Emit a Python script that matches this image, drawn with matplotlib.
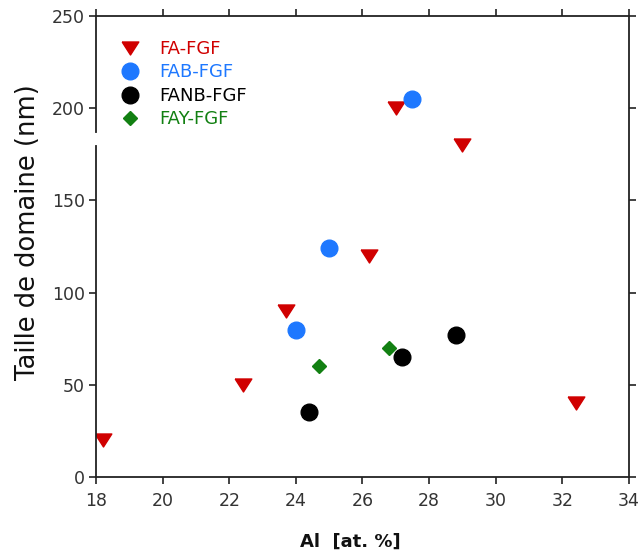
import numpy as np
import matplotlib
matplotlib.use('Agg')
import matplotlib.pyplot as plt

# Data
fa_x = [18.2, 22.4, 23.7, 26.2, 27.0, 29.0, 32.4]
fa_y = [20, 50, 90, 120, 200, 180, 40]

fab_x = [24.0, 25.0, 27.5]
fab_y = [80, 124, 205]

fanb_x = [24.4, 27.2, 28.8]
fanb_y = [35, 65, 77]

fay_x = [24.7, 26.8]
fay_y = [60, 70]

x_ticks = [18, 20, 22, 24, 26, 28, 30, 32, 34]
y_ticks = [0, 50, 100, 150, 200, 250]

red = '#d00000'
blue = '#1e78ff'
green = '#128012'

# flattened down-triangle
tri = [(-1, 0.78), (1, 0.78), (0, -0.78), (-1, 0.78)]

fig = plt.figure(figsize=(6.41, 5.55), dpi=100)
ax = fig.add_axes([0.150, 0.1405, 0.831, 0.8306])

ax.plot(fa_x, fa_y, linestyle='none', marker=tri, markersize=12,
        color=red, label='FA-FGF')
ax.plot(fab_x, fab_y, linestyle='none', marker='o', markersize=12,
        color=blue, label='FAB-FGF')
ax.plot(fanb_x, fanb_y, linestyle='none', marker='o', markersize=12,
        color='black', label='FANB-FGF')
ax.plot(fay_x, fay_y, linestyle='none', marker='D', markersize=7.5,
        color=green, label='FAY-FGF')

ax.set_xlim(18, 34)
ax.set_ylim(0, 250)
ax.set_xticks(x_ticks)
ax.set_yticks(y_ticks)

for s in ax.spines.values():
    s.set_linewidth(1.3)
    s.set_color('#222222')

ax.tick_params(axis='both', direction='out', length=5, width=1.2,
               color='#222222', labelsize=12.5, labelcolor='#333333',
               top=True, right=True, labeltop=False, labelright=False)
ax.tick_params(axis='x', pad=6)
ax.tick_params(axis='y', pad=3)

# small break in the left axis line as in the original
ax.plot([18, 18], [181, 185.5], color='white', lw=3, clip_on=False, zorder=5)

ax.set_ylabel('Taille de domaine (nm)', fontsize=18.5, color='#111111')
ax.yaxis.set_label_coords(-0.103, 0.532)
ax.set_xlabel('Al  [at. %]', fontsize=13, fontweight='bold', color='#111111')
ax.xaxis.set_label_coords(0.477, -0.1215)

leg = ax.legend(loc='upper left', bbox_to_anchor=(0.0, 0.991), frameon=False,
                fontsize=13, labelcolor='markerfacecolor', handletextpad=0.9,
                labelspacing=0.3, borderpad=0.6, handlelength=1.5)

fig.savefig('out.png', dpi=100)
